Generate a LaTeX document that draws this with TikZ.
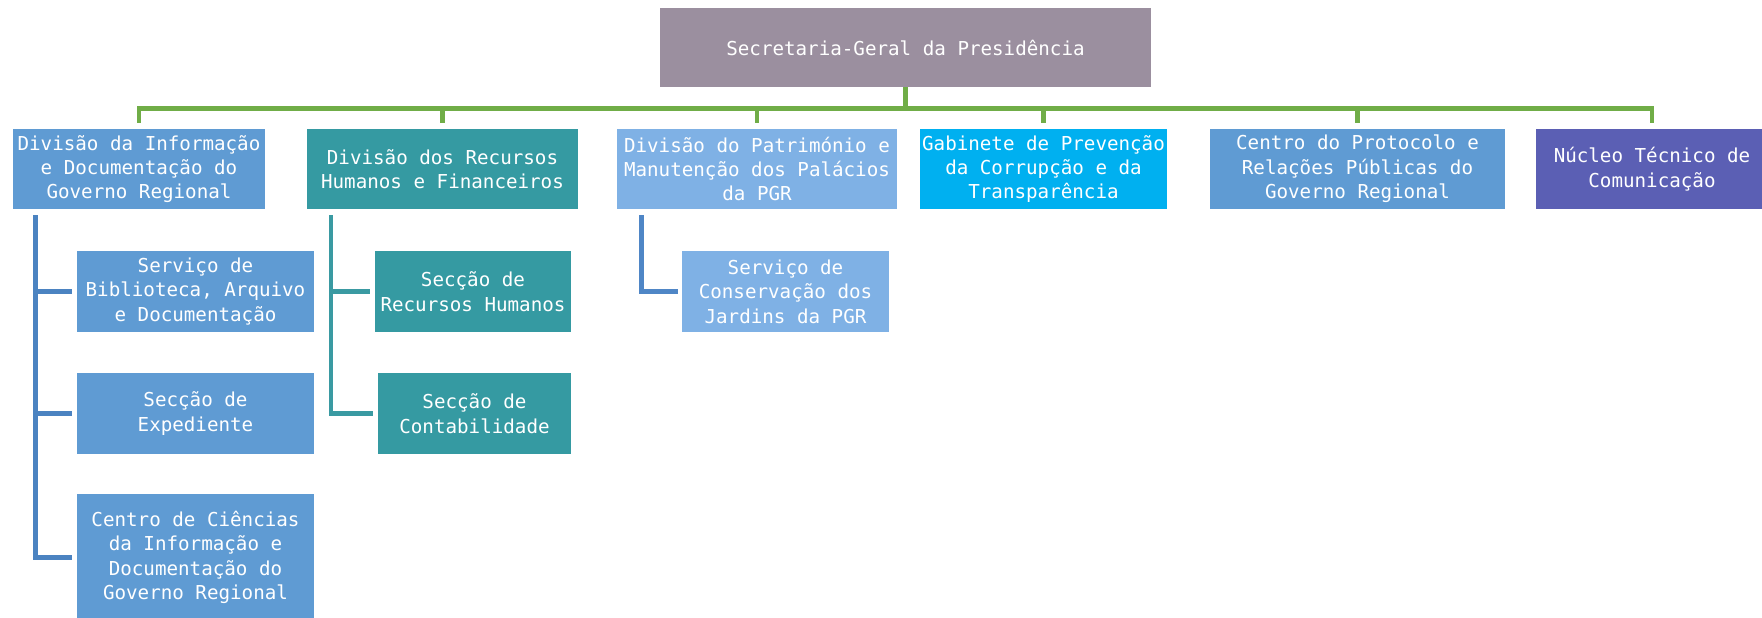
\documentclass[tikz,border=0pt]{standalone}
\usepackage{fontspec}
\setmonofont{DejaVu Sans Mono}
\usetikzlibrary{calc}
\definecolor{topc}{HTML}{9B8F9F}
\definecolor{cblu}{HTML}{5F9BD3}
\definecolor{cteal}{HTML}{359AA2}
\definecolor{clblu}{HTML}{7FB1E5}
\definecolor{ccyan}{HTML}{00B0F0}
\definecolor{cindig}{HTML}{5B5FB4}
\definecolor{cgrn}{HTML}{70AD47}
\definecolor{lnblu}{HTML}{4B83C1}
\definecolor{lnteal}{HTML}{3A9AA2}
\definecolor{lnlblu}{HTML}{4F86C6}
\tikzset{
  box/.style={rectangle, inner sep=0pt, text=white, align=center,
    font=\fontsize{9.6pt}{12.2pt}\selectfont\ttfamily},
  sz/.style 2 args={minimum width=#1*0.5pt, minimum height=#2*0.5pt},
  gline/.style={line width=2.3pt, cgrn},
  bl1/.style={line width=2.3pt, lnblu},
  bl2/.style={line width=2.3pt, lnteal},
  bl3/.style={line width=2.3pt, lnlblu},
}
\begin{document}
\begin{tikzpicture}[x=0.5pt,y=-0.5pt]
\useasboundingbox (0,0) rectangle (1762,617);
\node[box,fill=topc,sz={491}{79}] (top) at (905.5,47.5) {Secretaria-Geral da Presidência};
\node[box,fill=cblu,sz={252}{80}] (d1) at (139,169) {Divisão da Informação\\e Documentação do\\Governo Regional};
\node[box,fill=cteal,sz={271}{80}] (d2) at (442.5,169) {Divisão dos Recursos\\Humanos e Financeiros};
\node[box,fill=clblu,sz={280}{80}] (d3) at (757,169) {Divisão do Património e\\Manutenção dos Palácios\\da PGR};
\node[box,fill=ccyan,sz={247}{80}] (d4) at (1043.5,169) {Gabinete de Prevenção\\da Corrupção e da\\Transparência};
\node[box,fill=cblu,sz={295}{80}] (d5) at (1357.5,169) {Centro do Protocolo e\\Relações Públicas do\\Governo Regional};
\node[box,fill=cindig,sz={232}{80}] (d6) at (1652,169) {Núcleo Técnico de\\Comunicação};
\node[box,fill=cblu,sz={237}{81}] (c11) at (195.5,291.5) {Serviço de\\Biblioteca, Arquivo\\e Documentação};
\node[box,fill=cblu,sz={237}{81}] (c12) at (195.5,413.5) {Secção de\\Expediente};
\node[box,fill=cblu,sz={237}{127}] (c13) at (195.5,557.5) {Centro de Ciências\\da Informação e\\Documentação do\\Governo Regional};
\node[box,fill=cteal,sz={196}{81}] (c21) at (473,291.5) {Secção de\\Recursos Humanos};
\node[box,fill=cteal,sz={193}{81}] (c22) at (474.5,413.5) {Secção de\\Contabilidade};
\node[box,fill=clblu,sz={207}{81}] (c31) at (785.5,291.5) {Serviço de\\Conservação dos\\Jardins da PGR};
\foreach \n in {d1,d2,d3,d4,d5,d6}
  \draw[gline] (top.south) -- ++(0,21) -| ($(\n.north)+(0,-6)$);
\foreach \c in {c11,c12,c13}
  \draw[bl1] ($(d1.south west)+(23,6)$) |- ($(\c.west)+(-5,0)$);
\foreach \c in {c21,c22}
  \draw[bl2] ($(d2.south west)+(24.5,6)$) |- ($(\c.west)+(-5,0)$);
\draw[bl3] ($(d3.south west)+(25,6)$) |- ($(c31.west)+(-4,0)$);
\end{tikzpicture}
\end{document}
